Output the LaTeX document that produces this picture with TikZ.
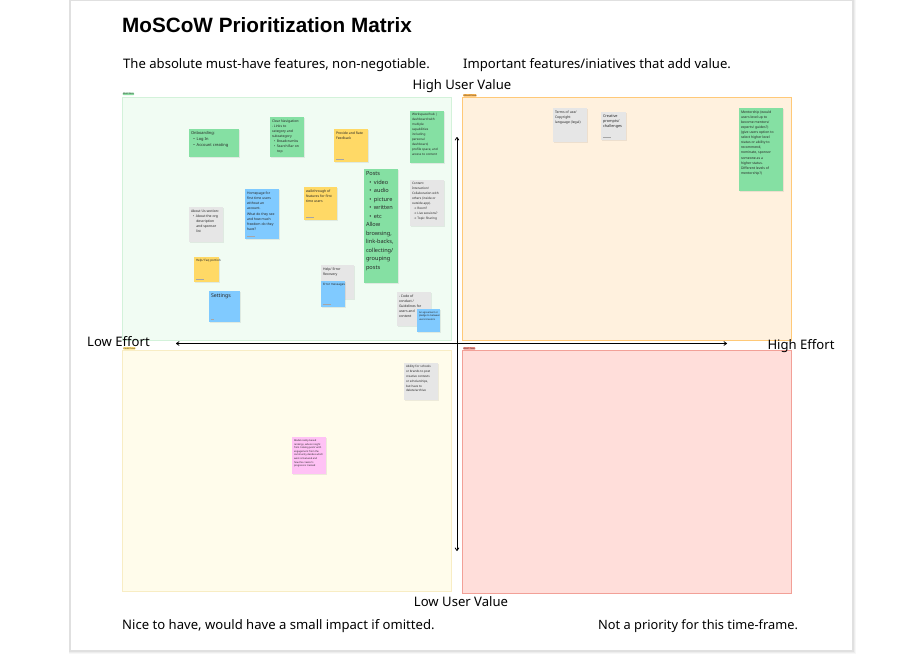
\documentclass[tikz,border=0pt]{standalone}
\usepackage{fontspec}
\setmainfont{Noto Sans}
\newfontfamily\titlefont{Liberation Sans}
\newfontfamily\symfont{DejaVu Sans}
\usetikzlibrary{arrows.meta}

\definecolor{stgreen}{HTML}{85E0A3}
\definecolor{styellow}{HTML}{FFD966}
\definecolor{stblue}{HTML}{80CAFF}
\definecolor{stgray}{HTML}{E6E6E6}
\definecolor{stpink}{HTML}{FFC2F5}
\definecolor{qgreen}{HTML}{F1FCF3}
\definecolor{qgreenline}{HTML}{D3F2DA}
\definecolor{qorange}{HTML}{FFF1DE}
\definecolor{qorangeline}{HTML}{FFC978}
\definecolor{qyellow}{HTML}{FFFCEB}
\definecolor{qyellowline}{HTML}{F8EDC4}
\definecolor{qred}{HTML}{FFDEDA}
\definecolor{qredline}{HTML}{F2A097}
\definecolor{taggreen}{HTML}{8ADB9F}
\definecolor{tagorange}{HTML}{FFB54D}
\definecolor{tagyellow}{HTML}{FFE07A}
\definecolor{tagred}{HTML}{F28B82}

\tikzset{
  quad/.style={line width=0.5pt},
  tagbox/.style={rounded corners=0.8pt, inner sep=0.4pt, font=\fontsize{2.2}{2.4}\selectfont, text=black!80},
  note/.style={inner sep=0pt, outer sep=0pt, draw=none},
  notetext/.style={inner sep=0pt, align=left, text=black!85},
  axis/.style={line width=0.8pt, {To[length=3.5pt,width=4.5pt]}-{To[length=3.5pt,width=4.5pt]}},
  caption/.style={font=\fontsize{13.1}{15}\selectfont, anchor=base west, inner sep=0pt},
  axislabel/.style={font=\fontsize{13.1}{15}\selectfont, anchor=base, inner sep=0pt},
  footline/.style={draw=black!35, line width=0.4pt}
}

% sticky note: [font], name, x, y, width, height, fill, text
\newcommand\sticky[8][\fontsize{3.4}{5.1}\selectfont]{%
  \fill[black,opacity=0.07] (#3+0.5,#4+0.7) rectangle ++(#5,#6);
  \node[note, fill=#7, minimum width=#5pt, minimum height=#6pt, anchor=north west] (#2) at (#3,#4) {};
  \node[notetext, font=#1, anchor=north west] (#2-t) at ([shift={(1.8pt,-2.4pt)}]#2.north west) {#8};
}
% author line at the foot of a note
\newcommand\signline[1]{%
  \draw[footline] ([shift={(1.8pt,3pt)}]#1.south west) -- ++(8,0);
}
\newcommand\bl{\hspace*{0.6em}\textbullet\hspace{0.45em}}
\newcommand\ar{\hspace*{0.6em}{\symfont →}\hspace{0.3em}}
\newcommand\ind{\hspace*{1.55em}}

\begin{document}
\begin{tikzpicture}[x=1pt,y=-1pt]
\useasboundingbox (0,0) rectangle (922,658);
\fill[white] (0,0) rectangle (922,658);

% card with soft shadow
\foreach \s/\o in {4/0.03,3/0.04,2/0.05,1/0.06}{
  \fill[black,opacity=\o] (70-\s*0.3,0) rectangle (852+\s,650+\s);
}
\node[note, fill=white, draw=black!12, line width=0.4pt, minimum width=782pt, minimum height=650pt, anchor=north west] (card) at (70,0) {};

% title and captions
\node[anchor=base west, inner sep=0pt, font=\titlefont\fontsize{20.7}{24}\selectfont\bfseries] (title) at (122,33) {MoSCoW Prioritization Matrix};
\node[caption] (capmust) at (123,69) {The absolute must-have features, non-negotiable.};
\node[caption] (capshould) at (463,69) {Important features/iniatives that add value.};
\node[caption] (capcould) at (122,629) {Nice to have, would have a small impact if omitted.};
\node[caption, font=\fontsize{12.8}{15}\selectfont] (capwont) at (598,629) {Not a priority for this time-frame.};

% quadrants
\node[note, quad, fill=qgreen, draw=qgreenline, minimum width=329pt, minimum height=243pt, anchor=north west] (must) at (122,97) {};
\node[note, quad, fill=qorange, draw=qorangeline, minimum width=329pt, minimum height=243pt, anchor=north west] (should) at (462,97) {};
\node[note, quad, fill=qyellow, draw=qyellowline, minimum width=329pt, minimum height=241pt, anchor=north west] (could) at (122,350) {};
\node[note, quad, fill=qred, draw=qredline, minimum width=329pt, minimum height=243pt, anchor=north west] (wont) at (462,350) {};

% section tags
\node[tagbox, fill=taggreen, anchor=north west] (tagmust) at (122.5,92.5) {Must have};
\node[tagbox, fill=tagorange, anchor=north west] (tagshould) at (463,94) {Should have};
\node[tagbox, fill=tagyellow, anchor=north west] (tagcould) at (123,347) {Could have};
\node[tagbox, fill=tagred, anchor=north west] (tagwont) at (463,347) {Won't have};

% axes
\coordinate (top) at (457,137);
\coordinate (bottom) at (457,551);
\coordinate (left) at (176,343.5);
\coordinate (right) at (727,343.5);
\draw[axis] (top) -- (bottom);
\draw[axis] (left) -- (right);
\node[axislabel] (hiuv) at (462,90) {High User Value};
\node[axislabel] (louv) at (461,606) {Low User Value};
\node[axislabel] (loeff) at (118.5,346) {Low Effort};
\node[axislabel] (hieff) at (801,349) {High Effort};

% ---- Must have ----
\sticky[\fontsize{4}{5.7}\selectfont]{onb}{189}{129}{50}{28}{stgreen}{Onboarding:\\ \bl Log In\\ \bl Account creating}
\sticky{nav}{270}{117}{34}{40}{stgreen}{Clear Navigation:\\- Links to\\category and\\subcategory\\ \bl Breadcrumbs\\ \bl Search Bar on\\ \ind top}
\sticky{feed}{334}{129}{34}{33}{styellow}{Provide and Rate\\Feedback}
\signline{feed}
\sticky[\fontsize{3.1}{5}\selectfont]{work}{410}{111}{34}{52}{stgreen}{Workspace/hub |\\dashboard with\\multiple\\capabilities\\including\\personal\\dashboard,\\profile space, and\\access to content}
\sticky[\fontsize{5.6}{8.5}\selectfont]{posts}{364}{169}{34}{114}{stgreen}{Posts\\ \bl video\\ \bl audio\\ \bl picture\\ \bl written\\ \bl etc\\Allow\\browsing,\\link-backs,\\collecting/\\grouping\\posts}
\sticky[\fontsize{3.1}{5}\selectfont]{content}{410}{180}{34}{46}{stgray}{Content\\Interaction/\\Collaboration with\\others (inside or\\outside app).\\ \ar Room?\\ \ar Live sessions?\\ \ar Topic Sharing}
\sticky[\fontsize{3.4}{5.2}\selectfont]{home}{245}{189}{34}{50}{stblue}{Homepage for\\first time users\\without an\\account.\\What do they see\\and how much\\freedom do they\\have?}
\signline{home}
\sticky{walk}{304}{187}{33}{33}{styellow}{walkthrough of\\features for first\\time users}
\signline{walk}
\sticky{about}{189}{207}{34}{35}{stgray}{About Us section:\\ \bl About the org\\ \ind description\\ \ind and sponsor\\ \ind list}
\sticky[\fontsize{3}{4}\selectfont]{faq}{194}{257}{25}{25}{styellow}{Help/ Faq portion}
\signline{faq}
\sticky[\fontsize{5.2}{6}\selectfont]{settings}{209}{291}{31}{31}{stblue}{Settings}
\draw[footline] ([shift={(1.8pt,3pt)}]settings.south west) -- ++(3,0);
\sticky{helperr}{321}{265}{33}{34}{stgray}{Help/ Error\\Recovery}
\sticky[\fontsize{3}{4}\selectfont]{errmsg}{321}{281}{24}{26}{stblue}{Error messages}
\signline{errmsg}
\sticky{conduct}{397}{292}{34}{34}{stgray}{- Code of\\conduct /\\Guidelines for\\users and\\content}
\sticky[\fontsize{2.4}{3.5}\selectfont]{pledge}{417}{309}{23}{23}{stblue}{An agreement or\\pledge to between\\users/creators}

% ---- Should have ----
\sticky{terms}{553}{108}{34}{34}{stgray}{Terms of use/\\Copyright\\language (legal)}
\sticky[\fontsize{3.8}{5}\selectfont]{prompts}{601}{112}{25}{28}{stgray}{Creative\\prompts/\\challenges}
\signline{prompts}
\sticky[\fontsize{3.4}{5.1}\selectfont]{mentor}{739}{108}{44}{83}{stgreen}{Mentorship (would\\users level up to\\become mentors/\\experts/ guides?)\\(give users option to\\select higher level\\status or ability to\\recommend,\\nominate, sponsor\\someone as a\\higher status.\\Different levels of\\mentorship?)}

% ---- Could have ----
\sticky[\fontsize{3}{4.8}\selectfont]{contests}{404}{363}{34}{37}{stgray}{Ability for schools\\or brands to post\\creative contests\\or scholarships,\\but have to\\delete/archive}
\sticky[\fontsize{2.4}{3.6}\selectfont]{ranking}{292}{437}{34}{37}{stpink}{Model reality-based\\rankings, where insight\\from 'catalog posts' with\\engagement from the\\community decides which\\work is featured and\\how the creator's\\progress is tracked}

\end{tikzpicture}
\end{document}
